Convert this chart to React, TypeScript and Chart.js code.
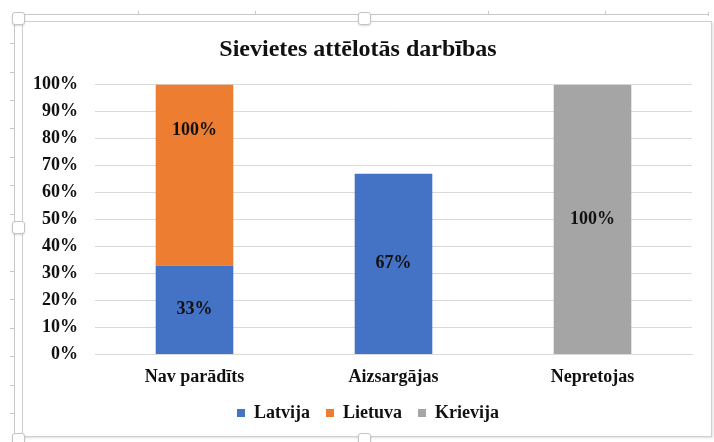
import React, { useEffect, useRef } from "react";
import { Chart, registerables } from "chart.js";

Chart.register(...registerables);

const categories = ["Nav parādīts", "Aizsargājas", "Nepretojas"];
const latvija = [33, 67, 0];
const lietuva = [100, 0, 0];
const krievija = [0, 0, 100];
const yTicks = [0, 10, 20, 30, 40, 50, 60, 70, 80, 90, 100];
const titleText = "Sievietes attēlotās darbības";

const FONT = "'Liberation Serif', 'Times New Roman', serif";

const labelPlugin = {
  id: "barLabels",
  afterDatasetsDraw(chart: any) {
    const ctx = chart.ctx;
    ctx.save();
    ctx.font = `bold 18px ${FONT}`;
    ctx.fillStyle = "#111";
    ctx.textAlign = "center";
    ctx.textBaseline = "middle";
    chart.data.datasets.forEach((ds: any, di: number) => {
      const meta = chart.getDatasetMeta(di);
      meta.data.forEach((bar: any, i: number) => {
        const v = ds.data[i];
        if (!v) return;
        const y = (bar.y + bar.base) / 2;
        ctx.fillText(`${v}%`, bar.x, y);
      });
    });
    ctx.restore();
  },
};

// keep the legend box compact while allowing wider horizontal spacing between items
const legendFitPlugin = {
  id: "legendFit",
  beforeInit(chart: any) {
    const lg = chart.legend;
    if (!lg) return;
    const orig = lg.fit;
    lg.fit = function () {
      orig.call(this);
      this.height = this.height - 5;
    };
  },
  afterLayout(chart: any) {
    const lg = chart.legend;
    if (!lg) return;
    lg.top -= 4;
    lg.bottom -= 4;
    lg.left += 10;
    lg.right += 10;
  },
};

function Handle({ x, y }: { x: number; y: number }) {
  return (
    <div
      style={{
        position: "absolute",
        left: x,
        top: y,
        width: 13,
        height: 13,
        background: "#fff",
        border: "1px solid #c4c4c4",
        borderRadius: 3,
        boxShadow: "0 1px 2px rgba(0,0,0,0.15)",
        boxSizing: "border-box",
      }}
    />
  );
}

export default function App() {
  const ref = useRef<HTMLCanvasElement>(null);
  useEffect(() => {
    document.body.style.margin = "0";
    const chart = new Chart(ref.current!, {
      type: "bar",
      data: {
        labels: categories,
        datasets: [
          { label: "Latvija", data: latvija, backgroundColor: "#4472C4" },
          { label: "Lietuva", data: lietuva, backgroundColor: "#ED7D31" },
          { label: "Krievija", data: krievija, backgroundColor: "#A5A5A5" },
        ],
      },
      options: {
        animation: false,
        responsive: false,
        devicePixelRatio: 1,
        layout: { padding: { left: 0, right: 19, top: 0, bottom: 4 } },
        datasets: {
          bar: { categoryPercentage: 1, barPercentage: 0.39 },
        } as any,
        scales: {
          x: {
            stacked: true,
            grid: { display: false },
            border: { display: true, color: "#d9d9d9" },
            ticks: {
              color: "#111",
              padding: 4,
              font: { family: FONT, size: 18, weight: "bold" },
            },
          },
          y: {
            stacked: true,
            min: 0,
            max: 100,
            afterFit(scale: any) {
              scale.width = 71;
            },
            afterBuildTicks(scale: any) {
              scale.ticks = yTicks.map((v) => ({ value: v }));
            },
            grid: { color: "#d9d9d9", drawTicks: false },
            border: { display: false },
            ticks: {
              color: "#111",
              padding: 17,
              font: { family: FONT, size: 18, weight: "bold" },
              callback: (v: any) => `${v}%`,
            },
          },
        },
        plugins: {
          title: {
            display: true,
            text: titleText,
            color: "#111",
            font: { family: FONT, size: 24, weight: "bold" },
            padding: { top: 12, bottom: 21 },
          },
          legend: {
            position: "bottom",
            labels: {
              boxWidth: 8,
              boxHeight: 8,
              padding: 16,
              color: "#111",
              font: { family: FONT, size: 18, weight: "bold" },
            },
          },
          tooltip: { enabled: false },
        },
      },
      plugins: [labelPlugin, legendFitPlugin],
    });
    return () => chart.destroy();
  }, []);

  const leftTicks = [43, 72, 100, 128, 157, 185, 214, 271, 299, 328, 356, 385, 413];
  const topTicks = [138, 255, 488, 605];

  return (
    <div style={{ position: "relative", width: 714, height: 442, background: "#fff", overflow: "hidden" }}>
      <div style={{ position: "absolute", left: 14, top: 14, width: 1, height: 428, background: "#c8c8c8" }} />
      <div style={{ position: "absolute", left: 14, top: 14, width: 694, height: 1, background: "#c8c8c8" }} />
      {leftTicks.map((t) => (
        <div key={"l" + t} style={{ position: "absolute", left: 10, top: t, width: 4, height: 1, background: "#c8c8c8" }} />
      ))}
      {topTicks.map((t) => (
        <div key={"t" + t} style={{ position: "absolute", left: t, top: 11, width: 1, height: 3, background: "#c8c8c8" }} />
      ))}
      <div style={{ position: "absolute", left: 708, top: 12, width: 1, height: 4, background: "#c8c8c8" }} />
      <div
        style={{
          position: "absolute",
          left: 22,
          top: 21,
          width: 690,
          height: 416,
          border: "1px solid #cfcfcf",
          boxShadow: "1px 1px 2px rgba(0,0,0,0.12)",
          boxSizing: "border-box",
        }}
      />
      <canvas
        ref={ref}
        width={687}
        height={412}
        style={{ position: "absolute", left: 24, top: 23, width: 687, height: 412 }}
      />
      <Handle x={12} y={12} />
      <Handle x={358} y={12} />
      <Handle x={12} y={221} />
      <Handle x={12} y={433} />
      <Handle x={358} y={433} />
    </div>
  );
}
